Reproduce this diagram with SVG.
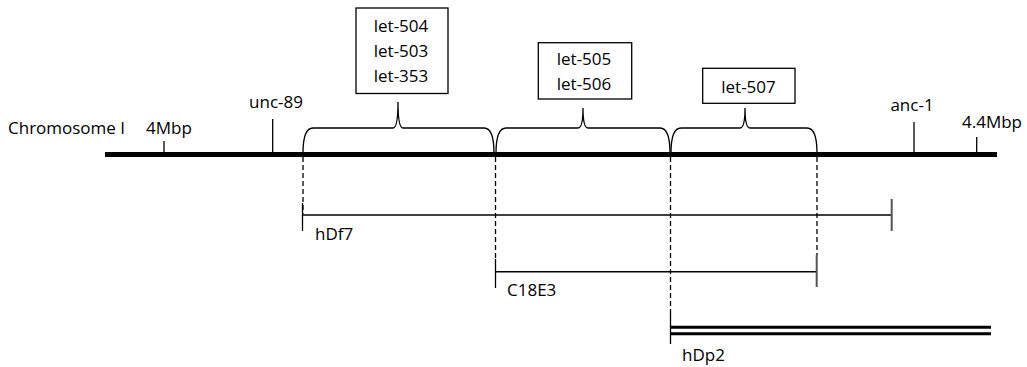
<svg xmlns="http://www.w3.org/2000/svg" width="1027" height="367" viewBox="0 0 1027 367">
<style>
text{font-family:"Open Sans","Liberation Sans",sans-serif;font-size:17px;fill:#000}
.c{text-anchor:middle}
.box{fill:#fff;stroke:#000;stroke-width:1.3}
.brace{fill:none;stroke:#000;stroke-width:1.3}
.tick{stroke:#000;stroke-width:1.3}
.gtick{stroke:#555;stroke-width:2}
.dash{stroke:#000;stroke-width:1.3;stroke-dasharray:5,3;fill:none}
.seg{stroke:#000;stroke-width:1.5}
.dbl{stroke:#000;stroke-width:3}
</style>
<rect width="1027" height="367" fill="#fff"/>
<g id="connectors">
<line class="dash" x1="303" y1="157" x2="303" y2="214"/>
<line class="dash" x1="495.5" y1="157" x2="495.5" y2="259"/>
<line class="dash" x1="670.5" y1="157" x2="670.5" y2="313"/>
<line class="dash" x1="817" y1="157" x2="817" y2="255"/>
</g>
<g id="chromosome">
<line x1="105" y1="154.5" x2="997" y2="154.5" stroke="#000" stroke-width="5"/>
<text x="8" y="134">Chromosome I</text>
</g>
<g id="marker-4Mbp">
<line class="tick" x1="164" y1="141" x2="164" y2="154"/>
<text x="146" y="134">4Mbp</text>
</g>
<g id="marker-unc-89">
<line class="tick" x1="272.7" y1="119" x2="272.7" y2="154"/>
<text class="c" x="276" y="108">unc-89</text>
</g>
<g id="marker-anc-1">
<line class="tick" x1="914" y1="122" x2="914" y2="154"/>
<text class="c" x="912" y="111">anc-1</text>
</g>
<g id="marker-4.4Mbp">
<line class="tick" x1="976.7" y1="137" x2="976.7" y2="154"/>
<text class="c" x="992" y="128">4.4Mbp</text>
</g>
<g id="brace1">
<path class="brace" d="M303,153 Q303,128 313,128 H393 Q398,128 398,102 Q398,128 403,128 H484 Q494,128 494,153"/>
<rect class="box" x="356" y="8" width="92" height="85.5"/>
<text class="c" x="401" y="31.5">let-504</text>
<text class="c" x="401" y="56.5">let-503</text>
<text class="c" x="401" y="81.5">let-353</text>
</g>
<g id="brace2">
<path class="brace" d="M496,153 Q496,128 506,128 H578 Q583,128 583,108 Q583,128 588,128 H660 Q670,128 670,153"/>
<rect class="box" x="538.3" y="42.7" width="93.4" height="56.3"/>
<text class="c" x="584" y="65">let-505</text>
<text class="c" x="584" y="90">let-506</text>
</g>
<g id="brace3">
<path class="brace" d="M671,153 Q671,128 681,128 H740 Q745,128 745,108 Q745,128 750,128 H807 Q817,128 817,153"/>
<rect class="box" x="702.7" y="68.3" width="92.3" height="35"/>
<text class="c" x="748.5" y="93">let-507</text>
</g>
<g id="hDf7">
<line class="seg" x1="302.5" y1="215" x2="891.7" y2="215"/>
<line class="tick" x1="302.5" y1="203" x2="302.5" y2="231"/>
<line class="gtick" x1="891.7" y1="199" x2="891.7" y2="231"/>
<text x="315" y="240">hDf7</text>
</g>
<g id="C18E3">
<line class="seg" x1="495.5" y1="271.7" x2="816.7" y2="271.7"/>
<line class="tick" x1="495.5" y1="259" x2="495.5" y2="288"/>
<line class="gtick" x1="816.7" y1="255" x2="816.7" y2="287"/>
<text x="507" y="296">C18E3</text>
</g>
<g id="hDp2">
<line class="dbl" x1="670.5" y1="327.3" x2="991" y2="327.3"/>
<line class="dbl" x1="670.5" y1="333.7" x2="991" y2="333.7"/>
<line class="tick" x1="670.5" y1="313" x2="670.5" y2="344"/>
<text x="682" y="360.5">hDp2</text>
</g>
</svg>
